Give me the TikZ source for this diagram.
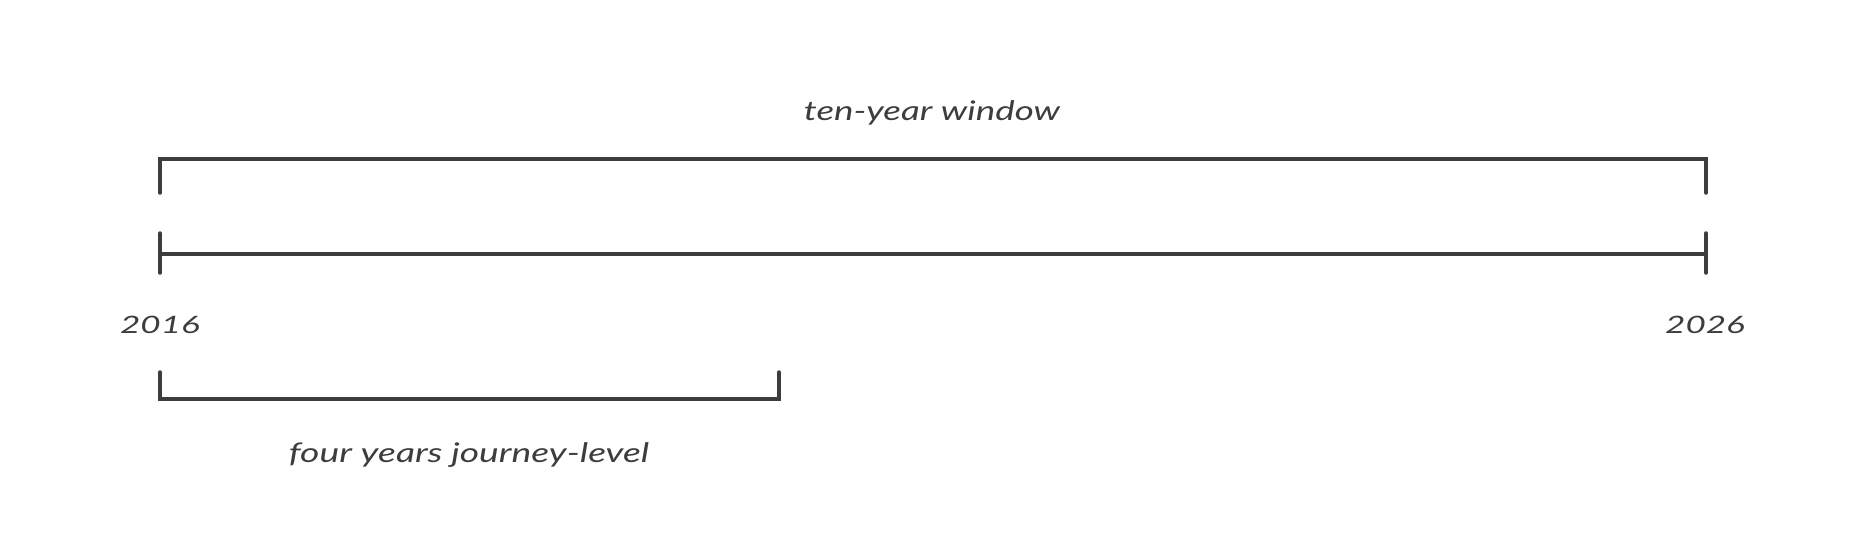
\documentclass[tikz,border=0pt]{standalone}
\usepackage{fontspec}
\setmainfont{Lato}
\definecolor{ink}{HTML}{3D3D40}
\newcommand{\wideit}[2]{\scalebox{#1}[1]{#2}}
\begin{document}
\begin{tikzpicture}[x=1pt,y=-1pt,
  rule/.style={draw=ink,line width=3.5pt,line cap=round,line join=miter},
  lbl/.style={text=ink,inner sep=0pt,font=\itshape\fontsize{27}{30}\selectfont},
  yr/.style={text=ink,inner sep=0pt,font=\itshape\fontsize{24}{26}\selectfont}]
\useasboundingbox (0,0) rectangle (1867,533);
% timeline
\coordinate (tA) at (160,254);
\coordinate (tB) at (1706,254);
\coordinate (tAu) at (160,233);
\coordinate (tAd) at (160,273);
\coordinate (tBu) at (1706,233);
\coordinate (tBd) at (1706,273);
\draw[rule] (tA) -- (tB);
\draw[rule] (tAu) -- (tAd);
\draw[rule] (tBu) -- (tBd);
% top bracket
\coordinate (wA) at (160,193);
\coordinate (wAc) at (160,159);
\coordinate (wBc) at (1706,159);
\coordinate (wB) at (1706,193);
\draw[rule] (wA) -- (wAc) -- (wBc) -- (wB);
% bottom bracket
\coordinate (jA) at (160,372);
\coordinate (jAc) at (160,399);
\coordinate (jBc) at (779,399);
\coordinate (jB) at (779,372);
\draw[rule] (jA) -- (jAc) -- (jBc) -- (jB);
% labels
\node[lbl,anchor=base] (win) at (932,120) {\wideit{1.36}{ten-year window}};
\node[yr] (y16) at (160,325) {\wideit{1.46}{2016}};
\node[yr] (y26) at (1705,325) {\wideit{1.46}{2026}};
\node[lbl,anchor=base] (jl) at (469,462) {\wideit{1.38}{four years journey-level}};
\end{tikzpicture}
\end{document}
